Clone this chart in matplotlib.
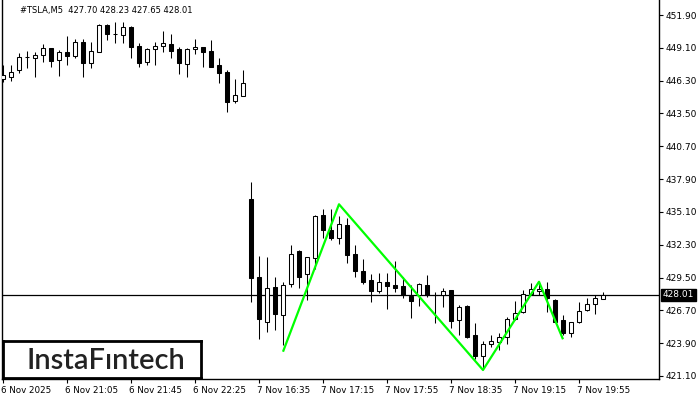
import matplotlib
matplotlib.use("Agg")
import matplotlib.pyplot as plt
import matplotlib.transforms as mtransforms
import numpy as np

# ---- data ----
opens = [446.44, 446.61, 447.21, 448.30, 448.23, 448.49, 449.05, 448.06, 448.74, 448.40,
         449.60, 447.80, 448.74, 451.05, 450.28, 450.19, 450.88, 449.26, 447.89, 449.00,
         449.26, 449.43, 449.00, 447.72, 449.00, 449.15, 448.83, 447.63, 447.04, 444.56,
         445.00, 436.20, 429.55, 425.71, 428.69, 426.30, 428.95, 431.77, 429.80, 431.17,
         434.84, 433.56, 432.87, 433.98, 431.51, 430.06, 429.29, 428.35, 429.12, 428.86,
         428.78, 427.93, 428.01, 428.86, 428.01, 428.01, 428.40, 425.88, 427.07, 424.60,
         422.81, 423.83, 424.00, 424.43, 425.96, 426.56, 428.10, 428.35, 428.52, 427.60,
         425.88, 424.77, 425.71, 426.70, 427.24, 427.70]
highs = [447.63, 447.63, 448.66, 448.83, 448.74, 449.43, 449.08, 448.91, 450.11, 449.85,
         449.85, 449.60, 451.13, 451.13, 451.30, 451.30, 450.96, 449.51, 449.08, 449.60,
         450.54, 450.28, 449.17, 449.08, 449.85, 449.17, 449.77, 448.23, 447.21, 446.44,
         447.21, 437.65, 431.34, 431.25, 429.55, 429.12, 432.28, 431.85, 431.25, 434.84,
         435.35, 435.35, 434.75, 434.58, 432.28, 431.08, 429.80, 429.89, 429.89, 430.91,
         429.55, 428.86, 429.03, 429.72, 428.27, 428.61, 428.44, 427.16, 427.16, 425.62,
         424.09, 424.60, 424.77, 426.13, 427.50, 428.44, 429.03, 429.12, 429.12, 427.67,
         426.30, 425.71, 427.41, 427.75, 428.01, 428.23]
lows = [446.18, 446.27, 446.95, 447.38, 446.61, 447.89, 447.46, 446.70, 447.63, 448.23,
        446.61, 447.38, 448.74, 449.77, 449.51, 449.51, 448.23, 447.46, 447.63, 447.63,
        448.74, 448.23, 446.87, 446.61, 448.57, 447.46, 447.46, 446.10, 443.62, 444.39,
        444.99, 427.41, 424.26, 424.85, 425.02, 423.74, 428.69, 428.61, 427.58, 430.22,
        432.87, 432.70, 432.36, 430.74, 429.55, 428.95, 427.41, 428.18, 426.82, 428.27,
        427.75, 426.07, 427.07, 427.84, 425.62, 426.99, 425.20, 424.60, 424.34, 422.56,
        421.70, 423.57, 423.32, 423.83, 425.88, 426.47, 428.01, 428.01, 426.56, 425.71,
        424.60, 424.43, 425.62, 426.65, 426.39, 427.65]
closes = [446.78, 447.04, 448.32, 448.34, 448.49, 449.08, 447.98, 448.74, 448.40, 449.60,
          447.80, 448.83, 451.05, 450.28, 450.30, 450.88, 449.17, 447.80, 449.00, 449.26,
          449.51, 448.83, 447.80, 449.00, 449.17, 448.74, 447.50, 446.95, 444.48, 445.07,
          446.10, 429.46, 425.96, 428.61, 426.39, 428.86, 431.51, 429.55, 431.25, 434.75,
          433.56, 432.87, 434.07, 431.42, 430.06, 429.12, 428.35, 429.12, 428.78, 428.61,
          428.01, 427.50, 428.95, 428.01, 427.98, 428.35, 425.79, 426.99, 424.43, 422.81,
          423.83, 424.09, 424.43, 425.96, 426.47, 428.10, 428.52, 428.52, 427.75, 425.71,
          424.77, 425.71, 426.65, 427.24, 427.75, 428.01]

# pattern line (bar index, price)
pattern_idx = [35, 42, 60, 67, 70]
pattern_px = [423.17, 435.75, 421.61, 429.14, 424.23]

price_ticks = [451.90, 449.10, 446.30, 443.50, 440.70, 437.90, 435.10, 432.30,
               429.50, 426.70, 423.90, 421.10]
time_tick_idx = [0, 8, 16, 24, 32, 40, 48, 56, 64, 72]
time_tick_labels = ["6 Nov 2025", "6 Nov 21:05", "6 Nov 21:45", "6 Nov 22:25",
                    "7 Nov 16:35", "7 Nov 17:15", "7 Nov 17:55", "7 Nov 18:35",
                    "7 Nov 19:15", "7 Nov 19:55"]
last_price = 428.01
title_text = "#TSLA,M5  427.70 428.23 427.65 428.01"
logo_text = "InstaF\u0131ntech"

# ---- figure ----
W, H = 700, 400
fig = plt.figure(figsize=(7, 4), dpi=100)
ax = fig.add_axes([2 / W, (H - 379) / H, 657 / W, 379 / H])

o = np.array(opens); h = np.array(highs); l = np.array(lows); c = np.array(closes)
x = np.arange(len(o))
px_per_unit = 11.72
y_top = 453.18
ax.set_xlim(-0.125, 82)
ax.set_ylim(y_top - 379 / px_per_unit, y_top)

lw = 0.75
ax.vlines(x, l, h, color="black", linewidth=lw, zorder=2)
up = c >= o
bottom = np.minimum(o, c)
height = np.maximum(np.abs(c - o), 0.02)
ax.bar(x[up], height[up], bottom=bottom[up], width=0.5, facecolor="white",
       edgecolor="black", linewidth=lw, zorder=3)
ax.bar(x[~up], height[~up], bottom=bottom[~up], width=0.5, facecolor="black",
       edgecolor="black", linewidth=lw, zorder=3)

ax.axhline(last_price, color="black", linewidth=0.9, zorder=1)

ax.plot(pattern_idx, pattern_px, color="#00ff00", linewidth=1.6, zorder=4,
        solid_capstyle="butt")

# axes styling
for s in ["left", "right", "bottom"]:
    ax.spines[s].set_linewidth(1.0)
    ax.spines[s].set_color("black")
ax.spines["top"].set_visible(False)

ax.yaxis.tick_right()
ax.set_yticks(price_ticks)
ax.set_yticklabels([f"{v:.2f}" for v in price_ticks])
ax.tick_params(axis="y", direction="out", length=3, width=0.8, pad=2,
               labelsize=6.5, colors="black")

ax.set_xticks(time_tick_idx)
ax.set_xticklabels(time_tick_labels)
ax.tick_params(axis="x", direction="out", length=3, width=0.8, pad=2,
               labelsize=6.3, colors="black")
offset = mtransforms.ScaledTranslation(-2 / 100, 0, fig.dpi_scale_trans)
for lab in ax.get_xticklabels():
    lab.set_horizontalalignment("left")
    lab.set_transform(lab.get_transform() + offset)

# last price label box
ax.annotate(f"{last_price:.2f}", xy=(1.0, last_price),
            xycoords=("axes fraction", "data"), xytext=(2.5, 0),
            textcoords="offset points", ha="left", va="center", fontsize=6.5,
            color="white",
            bbox=dict(boxstyle="square,pad=0.2", facecolor="black",
                      edgecolor="black"), zorder=10, annotation_clip=False)

# title
fig.text(20 / W, 1 - 11 / H, title_text, fontsize=6.0, color="black",
         ha="left", va="center")

# logo box
logo_ax = fig.add_axes([3 / W, (H - 378) / H, 198 / W, 37 / H])
logo_ax.set_xticks([]); logo_ax.set_yticks([])
logo_ax.set_facecolor("white")
for s in logo_ax.spines.values():
    s.set_linewidth(2.0)
    s.set_color("black")
logo_ax.text(0.52, 0.47, logo_text, fontsize=21, color="#222222",
             ha="center", va="center", family="Lato", fontweight="semibold",
             transform=logo_ax.transAxes)

fig.savefig("out.png", dpi=100)
